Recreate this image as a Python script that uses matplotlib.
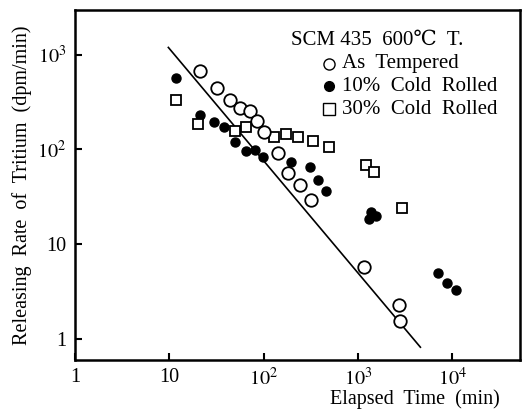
import numpy as np
import matplotlib
matplotlib.use("Agg")
import matplotlib.pyplot as plt

# ─────────────────────────────────────────────
# Data
# ─────────────────────────────────────────────
tempered_t = [21, 32, 44, 56, 72, 86, 101, 143, 183, 242, 320, 1150, 2700, 2770]
tempered_r = [667, 447, 333, 275, 257, 199, 152, 91.5, 57, 42, 29, 5.7, 2.28, 1.55]

rolled10_t = [11.7, 21.2, 29.8, 38, 49.3, 64.5, 81, 98, 196, 314, 376, 460,
              1300, 1380, 1560, 7060, 8790, 11000]
rolled10_r = [563, 228, 194, 172, 119, 96, 99, 83, 73.5, 65, 48, 36,
              18.5, 22, 20, 5.0, 3.9, 3.3]

rolled30_t = [11.7, 20.4, 49.3, 65.6, 128, 171, 233, 332, 491, 1220, 1500, 2930]
rolled30_r = [333, 186, 156, 172, 135, 144, 135, 122, 106, 68, 58, 24]

# fitted line through "As Tempered"
fit_t = [9.8, 4600]
fit_r = [1190, 0.82]

x_ticks = [1, 10, 100, 1000, 10000]
x_ticklabels = ["1", "10", "$10^2$", "$10^3$", "$10^4$"]
y_ticks = [1, 10, 100, 1000]
y_ticklabels = ["1", "10", "$10^2$", "$10^3$"]

legend_labels = ["As  Tempered", "10%  Cold  Rolled", "30%  Cold  Rolled"]
legend_title = "SCM 435  600℃  T."

plt.rcParams["font.family"] = ["Liberation Serif", "DejaVu Serif"]
plt.rcParams["mathtext.fontset"] = "stix"

fig = plt.figure(figsize=(5.27, 4.18), dpi=100)
ax = fig.add_axes([0.142, 0.139, 0.845, 0.837])

ax.plot(fit_t, fit_r, color="black", lw=1.2, zorder=1)
ax.plot(tempered_t, tempered_r, "o", ms=9, mfc="white", mec="black", mew=1.3, zorder=3)
ax.plot(rolled10_t, rolled10_r, "o", ms=6.5, mfc="black", mec="black", zorder=2)
ax.plot(rolled30_t, rolled30_r, "s", ms=7.5, mfc="white", mec="black", mew=1.3, zorder=2)

ax.set_xscale("log")
ax.set_yscale("log")
ax.set_xlim(1, 10 ** 4.72)
ax.set_ylim(10 ** -0.22, 10 ** 3.47)

ax.set_xticks(x_ticks)
ax.set_xticklabels(x_ticklabels)
ax.set_yticks(y_ticks)
ax.set_yticklabels(y_ticklabels)
ax.minorticks_off()
ax.tick_params(direction="in", length=5, width=1.5, labelsize=14.5, pad=6)
for s in ax.spines.values():
    s.set_linewidth(1.8)

ax.set_ylabel("Releasing  Rate  of  Tritium  (dpm/min)", fontsize=14.5, labelpad=4)
ax.set_xlabel("Elapsed  Time  (min)", fontsize=14.5, labelpad=4)
ax.xaxis.set_label_coords(0.955, -0.085)
ax.xaxis.label.set_ha("right")

# ── hand-drawn style legend block ──
ax.text(0.485, 0.912, legend_title, transform=ax.transAxes, fontsize=15, va="center")
markers = [("o", "white"), ("o", "black"), ("s", "white")]
for i, (lab, (m, fc)) in enumerate(zip(legend_labels, markers)):
    yy = 0.847 - i * 0.065
    ax.plot([0.57], [yy], m, transform=ax.transAxes, ms=8 if fc == "white" else 7,
            mfc=fc, mec="black", mew=1.0)
    ax.text(0.6, yy, lab, transform=ax.transAxes, fontsize=15, va="center")

fig.savefig("out.png", dpi=100)
